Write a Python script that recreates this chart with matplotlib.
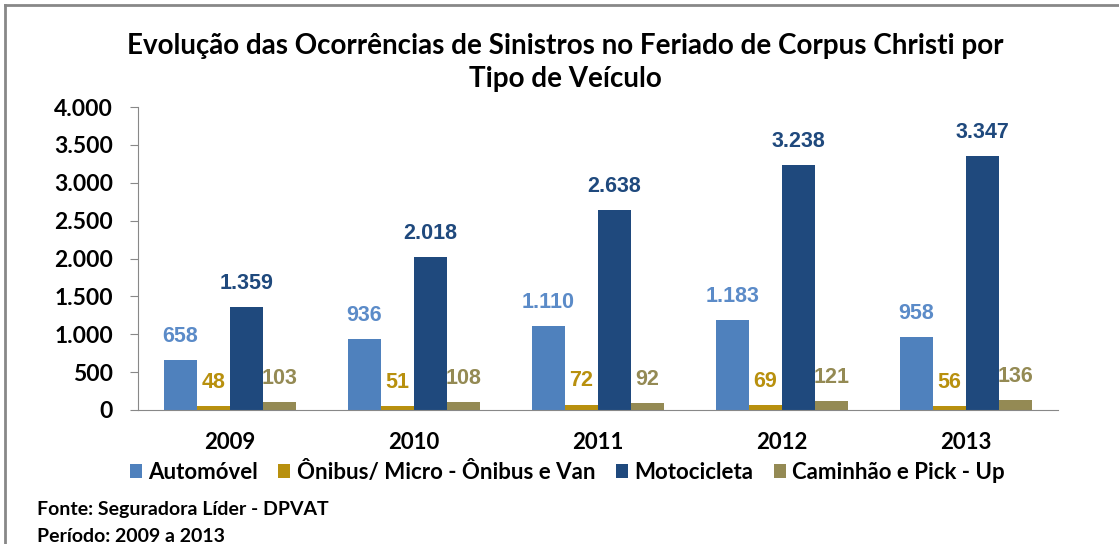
import numpy as np
import matplotlib
matplotlib.use("Agg")
import matplotlib.pyplot as plt
from matplotlib.lines import Line2D
from matplotlib.ticker import FuncFormatter

years = ["2009", "2010", "2011", "2012", "2013"]
series_names = ["Automóvel", "Ônibus/ Micro - Ônibus e Van", "Motocicleta", "Caminhão e Pick - Up"]
automovel = [658, 936, 1110, 1183, 958]
onibus = [48, 51, 72, 69, 56]
motocicleta = [1359, 2018, 2638, 3238, 3347]
caminhao = [103, 108, 92, 121, 136]

bar_colors = ["#4F81BD", "#B8900E", "#1F497D", "#948A54"]
label_colors = ["#5B8BC8", "#B8900E", "#1F497D", "#948A54"]


def fmt_br(v, pos=None):
    return "{:,.0f}".format(v).replace(",", ".")


fig = plt.figure(figsize=(11.19, 5.44), dpi=100)
ax = fig.add_axes([138 / 1119, 134 / 544, 920 / 1119, 303 / 544])

x = np.arange(len(years))
width = 0.18
all_series = [automovel, onibus, motocicleta, caminhao]
for i, vals in enumerate(all_series):
    pos = x + (i - 1.5) * width
    ax.bar(pos, vals, width, color=bar_colors[i], label=series_names[i])
    for p, v in zip(pos, vals):
        ax.annotate(fmt_br(v), (p, v), xytext=(0, 17), textcoords="offset points",
                    ha="center", va="center", fontsize=15.5, fontweight="bold",
                    color=label_colors[i], family="Liberation Sans")

ax.set_xlim(-0.5, 4.5)
ax.set_ylim(0, 4000)
ax.set_yticks(np.arange(0, 4001, 500))
ax.yaxis.set_major_formatter(FuncFormatter(fmt_br))
ax.set_xticks(x)
ax.set_xticklabels(years)
for lab in ax.get_yticklabels():
    lab.set_fontfamily("Lato")
    lab.set_fontweight("bold")
    lab.set_fontsize(16.5)
for lab in ax.get_xticklabels():
    lab.set_fontfamily("Lato")
    lab.set_fontweight("bold")
    lab.set_fontsize(16)
ax.tick_params(axis="y", length=6, color="#888888", pad=12)
ax.tick_params(axis="x", length=0, pad=16)
for s in ["top", "right"]:
    ax.spines[s].set_visible(False)
ax.spines["left"].set_color("#888888")
ax.spines["bottom"].set_color("#888888")

fig.suptitle("Evolução das Ocorrências de Sinistros no Feriado de Corpus Christi por\nTipo de Veículo",
             x=0.505, y=0.94, fontsize=20, fontweight="bold", family="Lato", linespacing=1.35)

fig.legend(loc="center", bbox_to_anchor=(0.507, 1 - 472 / 544), ncol=4, frameon=False,
           handlelength=0.55, handleheight=0.55, handletextpad=0.3, columnspacing=0.9,
           prop={"family": "Lato", "weight": "bold", "size": 16})

fig.text(37 / 1119, 1 - 510 / 544, "Fonte: Seguradora Líder - DPVAT", fontsize=14,
         fontweight="bold", family="Lato", va="center")
fig.text(37 / 1119, 1 - 537 / 544, "Período: 2009 a 2013", fontsize=14,
         fontweight="bold", family="Lato", va="center")

# outer frame (cut at right and bottom)
fig.add_artist(Line2D([5 / 1119, 1], [1 - 5 / 544, 1 - 5 / 544], color="#888888", lw=2))
fig.add_artist(Line2D([5 / 1119, 5 / 1119], [0, 1 - 5 / 544], color="#888888", lw=2))

fig.savefig("out.png", dpi=100)
